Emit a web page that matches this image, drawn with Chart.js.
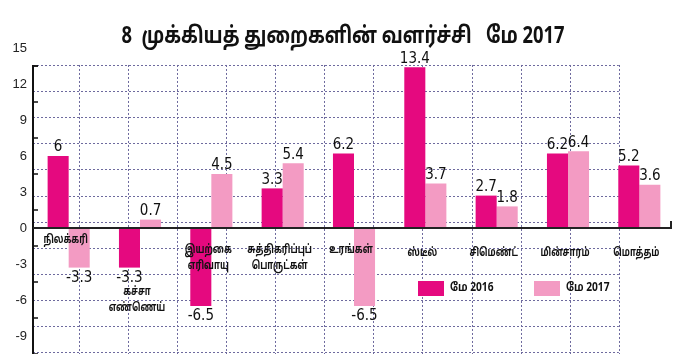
<!DOCTYPE html>
<html lang="ta">
<head>
  <meta charset="UTF-8" />
  <title>8 முக்கியத் துறைகளின் வளர்ச்சி மே 2017</title>
  <script src="https://cdn.jsdelivr.net/npm/chart.js"></script>
  <style>
    html, body { margin: 0; padding: 0; background: #fff; }
    #wrap { width: 700px; height: 354px; }
  </style>
</head>
<body>
  <div id="wrap"><canvas id="growthChart"></canvas></div>

  <script>
    // data
    const categories = [
      ['நிலக்கரி'], ['கச்சா', 'எண்ணெய்'], ['இயற்கை', 'எரிவாயு'],
      ['சுத்திகரிப்புப்', 'பொருட்கள்'], ['உரங்கள்'], ['ஸ்டீல்'],
      ['சிமெண்ட்'], ['மின்சாரம்'], ['மொத்தம்']
    ];
    const may2016 = [6, -3.3, -6.5, 3.3, 6.2, 13.4, 2.7, 6.2, 5.2];
    const may2017 = [-3.3, 0.7, 4.5, 5.4, -6.5, 3.7, 1.8, 6.4, 3.6];
    const seriesNames = ['மே 2016', 'மே 2017'];
    const yTicks = [-9, -6, -3, 0, 3, 6, 9, 12, 15];
    const titleText = '8  முக்கியத் துறைகளின் வளர்ச்சி   மே 2017';

    const DARK = '#e5097f';
    const LIGHT = '#f39bc3';
    const GRID = '#6e6a9e';
    const TAMIL = '"Noto Sans Tamil", "Latha", "Noto Sans", "DejaVu Sans", sans-serif';
    const NUM = '"Liberation Sans Narrow", "DejaVu Sans Condensed", "Liberation Sans", sans-serif';

    // category label drop below the zero line (px), per category
    const labelDrop = [13, 65, 23, 23, 23, 26, 26, 26, 26];

    // draw text squeezed horizontally (the original uses a condensed face)
    function squeezed(ctx, text, x, y, sx) {
      ctx.save();
      ctx.translate(x, y);
      ctx.scale(sx, 1);
      ctx.fillText(text, 0, 0);
      ctx.restore();
    }

    const decor = {
      id: 'decor',
      beforeDatasetsDraw(chart) {
        const { ctx, chartArea: a, scales } = chart;
        const gx = scales.gx, gy = scales.gy, y = scales.y;
        ctx.save();
        // title
        ctx.fillStyle = '#111';
        ctx.font = 'bold 23px ' + TAMIL;
        ctx.textAlign = 'center';
        ctx.textBaseline = 'middle';
        squeezed(ctx, titleText, 343, 38, 0.8);

        // dotted background grid
        ctx.strokeStyle = GRID;
        ctx.lineWidth = 1;
        ctx.setLineDash([2, 2]);
        const top = gy.getPixelForValue(0);
        const right = gx.getPixelForValue(11);
        for (let k = 0; k <= 11; k++) {
          const px = Math.round(gx.getPixelForValue(k)) + 0.5;
          ctx.beginPath(); ctx.moveTo(px, top); ctx.lineTo(px, a.bottom); ctx.stroke();
        }
        for (let k = 0; k <= 11; k++) {
          const py = Math.round(gy.getPixelForValue(k)) + 0.5;
          ctx.beginPath(); ctx.moveTo(a.left, py); ctx.lineTo(right, py); ctx.stroke();
        }
        ctx.setLineDash([]);
        // left axis
        ctx.strokeStyle = '#111';
        ctx.lineWidth = 2;
        ctx.beginPath(); ctx.moveTo(a.left, top); ctx.lineTo(a.left, a.bottom); ctx.stroke();
        ctx.lineWidth = 1.5;
        yTicks.forEach(v => {
          const py = y.getPixelForValue(v - 1.5);
          ctx.beginPath(); ctx.moveTo(a.left, py); ctx.lineTo(a.left + 5, py); ctx.stroke();
        });
        const py = y.getPixelForValue(13.5);
        ctx.beginPath(); ctx.moveTo(a.left, py); ctx.lineTo(a.left + 5, py); ctx.stroke();
        ctx.restore();
      },
      afterDatasetsDraw(chart) {
        const { ctx, chartArea: a, scales } = chart;
        const x = scales.x, y = scales.y;
        const zero = y.getPixelForValue(0);
        ctx.save();
        // zero line with end tick
        ctx.strokeStyle = '#222';
        ctx.lineWidth = 2;
        ctx.beginPath();
        ctx.moveTo(a.left, zero); ctx.lineTo(a.right - 4, zero); ctx.lineTo(a.right - 4, zero - 7);
        ctx.stroke();

        // value labels
        ctx.fillStyle = '#111';
        ctx.font = '15px ' + NUM;
        ctx.textAlign = 'center';
        chart.data.datasets.forEach((ds, di) => {
          chart.getDatasetMeta(di).data.forEach((bar, i) => {
            const v = ds.data[i];
            if (v >= 0) {
              ctx.textBaseline = 'bottom';
              ctx.fillText(String(v), bar.x, bar.y - 1);
            } else {
              ctx.textBaseline = 'top';
              ctx.fillText(String(v), bar.x, bar.y + 3);
            }
          });
        });

        // category labels
        ctx.font = 'bold 12px ' + TAMIL;
        ctx.textBaseline = 'middle';
        categories.forEach((lines, i) => {
          const cx = x.getPixelForValue(i) - 3;
          lines.forEach((t, j) => {
            squeezed(ctx, t, cx, zero + labelDrop[i] + j * 16, 0.72);
          });
        });

        // legend inside plot
        const items = [[DARK, 418], [LIGHT, 534]];
        ctx.textAlign = 'left';
        items.forEach(([col, lx], i) => {
          ctx.fillStyle = col;
          ctx.fillRect(lx, 281, 26, 15);
          ctx.fillStyle = '#111';
          squeezed(ctx, seriesNames[i], lx + 32, 289, 0.85);
        });
        ctx.restore();
      }
    };

    new Chart(document.getElementById('growthChart'), {
      type: 'bar',
      data: {
        labels: categories,
        datasets: [
          { label: seriesNames[0], data: may2016, backgroundColor: DARK },
          { label: seriesNames[1], data: may2017, backgroundColor: LIGHT }
        ]
      },
      options: {
        responsive: true,
        maintainAspectRatio: false,
        animation: false,
        layout: { padding: { left: 0, right: 25, top: 48, bottom: 0 } },
        datasets: { bar: { categoryPercentage: 0.59, barPercentage: 1.0 } },
        plugins: {
          legend: { display: false },
          tooltip: { enabled: false },
          title: { display: false }
        },
        scales: {
          x: { type: 'category', display: false },
          y: {
            min: -10.5, max: 15,
            afterBuildTicks: s => { s.ticks = yTicks.map(v => ({ value: v })); },
            afterFit: s => { s.width = 33; s.paddingTop = 0; s.paddingBottom = 0; },
            grid: { display: false, drawTicks: false },
            border: { display: false },
            ticks: { padding: 6, color: '#222', font: { family: '"Liberation Sans", sans-serif', size: 13 } }
          },
          gx: { type: 'linear', axis: 'x', position: 'bottom', display: false, min: 0, max: 11.21 },
          gy: { type: 'linear', axis: 'y', position: 'left', display: false, reverse: true, min: -0.65, max: 11.07 }
        }
      },
      plugins: [decor]
    });
  </script>
</body>
</html>
